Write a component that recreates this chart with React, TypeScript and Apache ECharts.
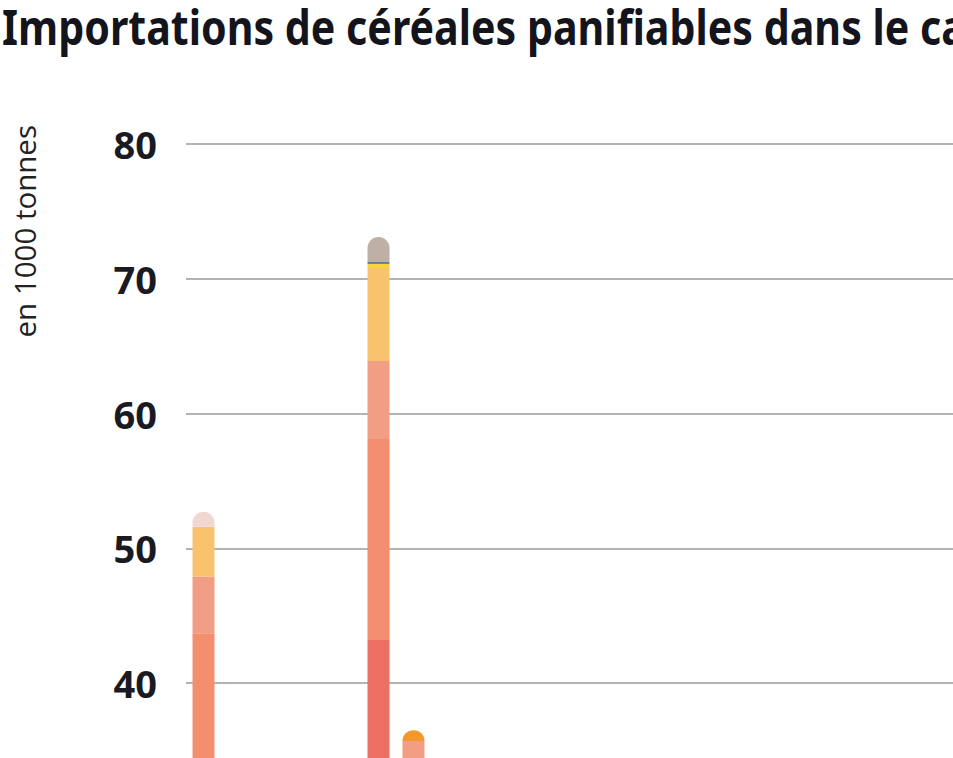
import React, { useEffect, useRef } from "react";
import * as echarts from "echarts";

const categories = [
  "janv. 23", "févr. 23", "mars 23", "avr. 23", "mai 23", "juin 23",
  "juil. 23", "août 23", "sept. 23", "oct. 23", "nov. 23", "déc. 23",
  "janv. 24", "févr. 24", "mars 24", "avr. 24", "mai 24", "juin 24",
  "juil. 24", "août 24", "sept. 24", "oct. 24", "nov. 24", "déc. 24",
];

const yTicks = [0, 10, 20, 30, 40, 50, 60, 70, 80];

const serieA = [15, 0, 0, 0, 0, 43.2, 10, 0, 0, 0, 0, 0, 0, 0, 0, 0, 0, 0, 0, 0, 0, 0, 0, 0];
const serieB = [28.7, 0, 0, 0, 0, 14.9, 15, 0, 0, 0, 0, 0, 0, 0, 0, 0, 0, 0, 0, 0, 0, 0, 0, 0];
const serieC = [4.2, 0, 0, 0, 0, 5.8, 10.7, 0, 0, 0, 0, 0, 0, 0, 0, 0, 0, 0, 0, 0, 0, 0, 0, 0];
const serieD = [3.7, 0, 0, 0, 0, 6.9, 0, 0, 0, 0, 0, 0, 0, 0, 0, 0, 0, 0, 0, 0, 0, 0, 0, 0];
const serieE = [0, 0, 0, 0, 0, 0.3, 0, 0, 0, 0, 0, 0, 0, 0, 0, 0, 0, 0, 0, 0, 0, 0, 0, 0];
const serieF = [0, 0, 0, 0, 0, 0, 0.8, 0, 0, 0, 0, 0, 0, 0, 0, 0, 0, 0, 0, 0, 0, 0, 0, 0];
const serieG = [0, 0, 0, 0, 0, 0.15, 0, 0, 0, 0, 0, 0, 0, 0, 0, 0, 0, 0, 0, 0, 0, 0, 0, 0];
const serieH = [0, 0, 0, 0, 0, 1.85, 0, 0, 0, 0, 0, 0, 0, 0, 0, 0, 0, 0, 0, 0, 0, 0, 0, 0];
const serieI = [1.1, 0, 0, 0, 0, 0, 0, 0, 0, 0, 0, 0, 0, 0, 0, 0, 0, 0, 0, 0, 0, 0, 0, 0];

const seriesList = [
  { name: "Origine A", data: serieA, color: "#ee6f63" },
  { name: "Origine B", data: serieB, color: "#f38e6f" },
  { name: "Origine C", data: serieC, color: "#f29e85" },
  { name: "Origine D", data: serieD, color: "#f8c36c" },
  { name: "Origine E", data: serieE, color: "#f9d23c" },
  { name: "Origine F", data: serieF, color: "#f5982c" },
  { name: "Origine G", data: serieG, color: "#5a7fa0" },
  { name: "Origine H", data: serieH, color: "#bfb0a6" },
  { name: "Origine I", data: serieI, color: "#f0d8d0" },
];

const title = "Importations de céréales panifiables dans le cadre du contingent tarifaire";
const axisTitle = "en 1000 tonnes";

export default function App() {
  const ref = useRef<HTMLDivElement>(null);

  useEffect(() => {
    if (!ref.current) return;
    const chart = echarts.init(ref.current, undefined, { renderer: "svg" });

    const topIndex = categories.map((_, ci) => {
      let t = -1;
      seriesList.forEach((s, si) => {
        if (s.data[ci] > 0) t = si;
      });
      return t;
    });

    const series = seriesList.map((s, si) => ({
      name: s.name,
      type: "bar",
      stack: "total",
      barWidth: 22,
      itemStyle: { color: s.color },
      data: s.data.map((v, ci) =>
        topIndex[ci] === si
          ? { value: v, itemStyle: { borderRadius: [11, 11, 0, 0] } }
          : v
      ),
    }));

    chart.setOption({
      animation: false,
      grid: { left: 186, top: 144, width: categories.length * 35, height: 1078, containLabel: false },
      xAxis: {
        type: "category",
        data: categories,
        axisLine: { show: false },
        axisTick: { show: false },
        axisLabel: { fontSize: 16, color: "#222" },
      },
      yAxis: {
        type: "value",
        min: yTicks[0],
        max: yTicks[yTicks.length - 1],
        interval: 10,
        axisLine: { show: false },
        axisTick: { show: false },
        axisLabel: {
          margin: 29,
          fontSize: 38,
          fontWeight: "bold",
          fontFamily: "Noto Sans",
          color: "#1a1a22",
          padding: [0, 0, 6, 0],
        },
        splitLine: { lineStyle: { color: "#9a9a9a", width: 1.5 } },
      },
      graphic: [
        {
          type: "text",
          x: 2,
          y: 2,
          scaleX: 0.84,
          style: {
            text: title,
            fontSize: 49,
            fontWeight: "bold",
            fontFamily: "Noto Sans",
            fill: "#14141c",
            textAlign: "left",
            textVerticalAlign: "top",
          },
        },
        {
          type: "text",
          x: 24,
          y: 125,
          rotation: Math.PI / 2,
          style: {
            text: axisTitle,
            fontSize: 29.5,
            fontFamily: "Open Sans",
            fill: "#222",
            textAlign: "right",
            textVerticalAlign: "middle",
          },
        },
      ],
      series,
    });

    return () => chart.dispose();
  }, []);

  return (
    <div style={{ position: "fixed", left: 0, top: 0, width: 953, height: 758, overflow: "hidden", background: "#fff" }}>
      <div ref={ref} style={{ width: 1100, height: 1300 }} />
    </div>
  );
}
